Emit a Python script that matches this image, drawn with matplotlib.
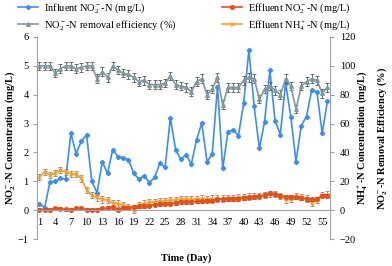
import numpy as np
import matplotlib
matplotlib.use("Agg")
import matplotlib.pyplot as plt

plt.rcParams['font.family'] = ['Liberation Serif', 'DejaVu Serif']
plt.rcParams['mathtext.fontset'] = 'custom'
plt.rcParams['mathtext.rm'] = 'Liberation Serif'
plt.rcParams['mathtext.it'] = 'Liberation Serif:italic'
plt.rcParams['mathtext.bf'] = 'Liberation Serif:bold'
plt.rcParams['mathtext.default'] = 'regular'

# 日数
days = np.arange(1, 57)
xtick_days = list(range(1, 56, 3))

# 流入 NO2-N (mg/L)
influent_no2 = [0.23, 0.08, 0.98, 1.00, 1.10, 1.07, 2.66, 1.96, 2.39, 2.60,
                1.00, 0.60, 1.67, 1.27, 2.10, 1.85, 1.82, 1.75, 1.28, 1.07,
                1.20, 0.95, 1.14, 1.63, 1.48, 3.20, 2.10, 1.76, 1.92, 1.59,
                2.43, 3.02, 1.68, 1.95, 4.28, 1.45, 2.72, 2.78, 2.58, 3.70,
                5.55, 3.60, 2.14, 3.07, 4.84, 3.10, 2.62, 4.40, 3.24, 1.68,
                2.93, 3.24, 4.17, 4.10, 2.66, 3.78]

# 流出 NO2-N (mg/L)
effluent_no2 = [0.02, 0.02, 0.02, 0.06, 0.05, 0.03, 0.02, 0.06, 0.06, 0.02,
                0.02, 0.02, 0.06, 0.07, 0.10, 0.02, 0.08, 0.09, 0.12, 0.13,
                0.14, 0.16, 0.19, 0.21, 0.23, 0.23, 0.25, 0.28, 0.28, 0.29,
                0.30, 0.30, 0.33, 0.33, 0.37, 0.37, 0.38, 0.38, 0.40, 0.42,
                0.44, 0.46, 0.48, 0.52, 0.58, 0.55, 0.50, 0.47, 0.45, 0.44,
                0.42, 0.38, 0.37, 0.40, 0.50, 0.50]

# 流出 NH4-N (mg/L)
effluent_nh4 = [1.15, 1.33, 1.21, 1.29, 1.38, 1.33, 1.25, 1.25, 1.10, 0.69,
                0.52, 0.44, 0.37, 0.35, 0.25, 0.23, 0.17, 0.12, 0.02, 0.17,
                0.23, 0.27, 0.29, 0.31, 0.32, 0.35, 0.35, 0.38, 0.38, 0.38,
                0.38, 0.40, 0.38, 0.40, 0.40, 0.40, 0.42, 0.42, 0.44, 0.45,
                0.47, 0.48, 0.49, 0.52, 0.56, 0.56, 0.49, 0.37, 0.40, 0.49,
                0.46, 0.40, 0.25, 0.35, 0.52, 0.54]

# NO2-N 除去効率 (%)
removal_eff = [100, 100, 100, 95, 98, 100, 100, 98, 99, 100,
               100, 91, 96, 92, 100, 97, 95, 94, 92, 89,
               90, 87, 87, 87, 88, 93, 87, 86, 85, 82,
               89, 91, 80, 84, 92, 73, 85, 85, 85, 90,
               92, 91, 77, 84, 86, 83, 80, 91, 86, 70,
               86, 89, 91, 90, 81, 85]

# 誤差 (一定値)
err_no2 = 0.06
err_nh4 = 0.11
err_eff = 3.0

blue = '#3a8ef2'
red = '#f04c14'
orange = '#f9a01b'
gray = '#7f979f'

fig = plt.figure(figsize=(3.92, 2.66), dpi=100)
ax = fig.add_axes([0.094, 0.1015, 0.748, 0.7595])
ax2 = ax.twinx()

l1, = ax.plot(days, influent_no2, color=blue, marker='D', markersize=2.2,
              linewidth=1.2, label=r'Influent NO$_2^-$-N (mg/L)')
ax.errorbar(days, effluent_nh4, yerr=err_nh4, fmt='none', ecolor='#8a8a8a',
            elinewidth=0.6, capsize=1.5, capthick=0.6)
l4, = ax.plot(days, effluent_nh4, color=orange, marker='x', markersize=2.5,
              markeredgewidth=0.8, linewidth=1.2,
              label=r'Effluent NH$_4^+$-N (mg/L)')
ax.errorbar(days, effluent_no2, yerr=err_no2, fmt='none', ecolor='#333333',
            elinewidth=0.6, capsize=1.5, capthick=0.6)
l3, = ax.plot(days, effluent_no2, color=red, marker='o', markersize=2.6,
              linewidth=1.2, label=r'Effluent NO$_2^-$-N (mg/L)')

ax2.errorbar(days, removal_eff, yerr=err_eff, fmt='none', ecolor='#555555',
             elinewidth=0.6, capsize=1.5, capthick=0.6)
l2, = ax2.plot(days, removal_eff, color=gray, marker='^', markersize=2.6,
               linewidth=1.2, label=r'NO$_2^-$-N removal efficiency (%)')

ax.set_xlim(0.5, 56.5)
ax.set_ylim(-1, 6)
ax2.set_ylim(-20, 120)
ax.set_yticks(range(-1, 7))
ax2.set_yticks(range(-20, 121, 20))
ax.set_xticks(xtick_days)

spine_c = '#9aa5ab'
for a in (ax, ax2):
    a.spines['top'].set_visible(False)
    a.spines['left'].set_color(spine_c)
    a.spines['right'].set_color(spine_c)
ax2.spines['bottom'].set_visible(False)
ax.spines['right'].set_visible(False)
ax2.spines['left'].set_visible(False)
ax.spines['bottom'].set_position(('data', 0))
ax.spines['bottom'].set_color(spine_c)

ax.tick_params(axis='x', length=0, pad=6, labelsize=7.5)
ax.tick_params(axis='y', length=3, color=spine_c, labelsize=7.5, pad=3)
ax2.tick_params(axis='y', length=3, color=spine_c, labelsize=7.5, pad=4)

fig.text(0.475, 0.03, 'Time (Day)', ha='center', va='center',
         fontsize=7.5, fontweight='bold')
fig.text(10 / 392, 0.48, r'NO$_2^-$-N Concentration (mg/L)', rotation=90,
         ha='center', va='center', fontsize=7.5, fontweight='bold')
fig.text(372 / 392, 0.48, 'NH$_4^+$-N Concentration (mg/L)\n'
         'NO$_2^-$-N Removal Efficiency (%)', rotation=90,
         ha='center', va='center', multialignment='center', linespacing=1.7,
         fontsize=7.5, fontweight='bold')

leg_kw = dict(loc='upper left', frameon=False, fontsize=7.5,
              handlelength=1.9, labelspacing=0.3, handletextpad=0.6,
              borderpad=0, borderaxespad=0)
leg1 = fig.legend(handles=[l1, l2], bbox_to_anchor=(18 / 392, 0.995), **leg_kw)
leg2 = fig.legend(handles=[l3, l4], bbox_to_anchor=(222 / 392, 0.995), **leg_kw)

fig.savefig('out.png', dpi=100)
